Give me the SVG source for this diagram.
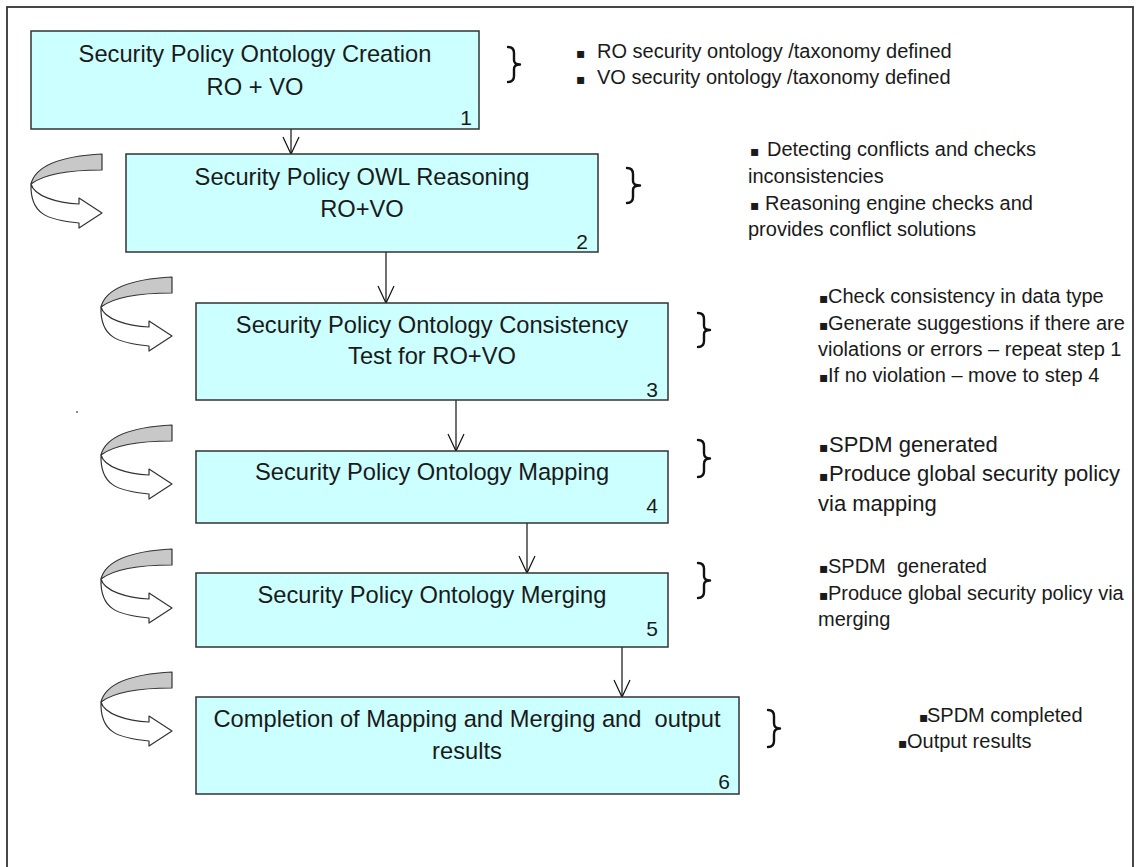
<svg xmlns="http://www.w3.org/2000/svg" xmlns:xlink="http://www.w3.org/1999/xlink" width="1139" height="867" viewBox="0 0 1139 867">
<style>
.box{fill:#ccffff;stroke:#333;stroke-width:1.5}
.bt{font-family:"Liberation Sans",Arial,sans-serif;font-size:23.7px;fill:#1a1a1a;text-anchor:middle;white-space:pre}
.num{font-family:"Liberation Sans",Arial,sans-serif;font-size:21px;fill:#1a1a1a;text-anchor:end}
.note{font-family:"Liberation Sans",Arial,sans-serif;font-size:20px;fill:#1a1a1a;white-space:pre}
.bul{font-family:"DejaVu Sans",sans-serif;font-size:14px}
.brace{fill:none;stroke:#111;stroke-width:2.4;stroke-linecap:round;stroke-linejoin:round}
.conn{stroke:#111;stroke-width:1.2;fill:none}
.gray{fill:#c8c8c8;stroke:#333;stroke-width:1.2;stroke-linejoin:round}
.wht{fill:#fff;stroke:#333;stroke-width:1.2;stroke-linejoin:round}
</style>
<defs>
<marker id="vh" markerUnits="userSpaceOnUse" markerWidth="40" markerHeight="40" refX="0" refY="0" orient="auto" overflow="visible">
<path d="M-17,-8 L0,0 L-17,8" fill="none" stroke="#111" stroke-width="1.2"/>
</marker>
<g id="uturn">
<path class="wht" d="M-71,30 C-68,42 -45,49 -23,50 L-23,44 L0,59 L-23,74 L-23,69 C-55,66 -72,60 -71,30 Z"/>
<path class="gray" d="M0,0 C-38,2 -66,10 -71,30 C-58,20 -35,16 0,16 Z"/>
</g>
</defs>
<rect width="1139" height="867" fill="#fff"/>
<rect id="frame" x="7" y="7" width="1126" height="880" fill="none" stroke="#333" stroke-width="1.8"/>
<circle cx="77" cy="412" r="0.9" fill="#555"/>

<g id="loops">
<use xlink:href="#uturn" transform="translate(102,154)"/>
<use xlink:href="#uturn" transform="translate(172,277)"/>
<use xlink:href="#uturn" transform="translate(172,425)"/>
<use xlink:href="#uturn" transform="translate(172,549)"/>
<use xlink:href="#uturn" transform="translate(172,672)"/>
</g>

<g id="connectors">
<line class="conn" x1="291" y1="129" x2="291" y2="154" marker-end="url(#vh)"/>
<line class="conn" x1="386" y1="252" x2="386" y2="303" marker-end="url(#vh)"/>
<line class="conn" x1="456" y1="400" x2="456" y2="451" marker-end="url(#vh)"/>
<line class="conn" x1="527" y1="523" x2="527" y2="573" marker-end="url(#vh)"/>
<line class="conn" x1="622" y1="647" x2="622" y2="697" marker-end="url(#vh)"/>
</g>

<g id="step1">
<rect class="box" x="31" y="31" width="448" height="98"/>
<text class="bt" x="255" y="62">Security Policy Ontology Creation</text>
<text class="bt" x="255" y="95">RO + VO</text>
<text class="num" x="472" y="125">1</text>
</g>
<g id="step2">
<rect class="box" x="126" y="154" width="472" height="98"/>
<text class="bt" x="362" y="185">Security Policy OWL Reasoning</text>
<text class="bt" x="362" y="217">RO+VO</text>
<text class="num" x="588" y="249">2</text>
</g>
<g id="step3">
<rect class="box" x="196" y="303" width="472" height="97"/>
<text class="bt" x="432" y="333">Security Policy Ontology Consistency</text>
<text class="bt" x="432" y="364">Test for RO+VO</text>
<text class="num" x="658" y="397">3</text>
</g>
<g id="step4">
<rect class="box" x="196" y="451" width="472" height="72"/>
<text class="bt" x="432" y="480">Security Policy Ontology Mapping</text>
<text class="num" x="658" y="513">4</text>
</g>
<g id="step5">
<rect class="box" x="196" y="573" width="472" height="74"/>
<text class="bt" x="432" y="603">Security Policy Ontology Merging</text>
<text class="num" x="658" y="636">5</text>
</g>
<g id="step6">
<rect class="box" x="196" y="697" width="543" height="97"/>
<text class="bt" x="467" y="727">Completion of Mapping and Merging and  output</text>
<text class="bt" x="467" y="759">results</text>
<text class="num" x="730" y="789">6</text>
</g>

<g id="notes1">
<path class="brace" d="M508,47 Q514,47 514,53 L514,60 Q514,64.5 520,64.5 Q514,64.5 514,69 L514,76 Q514,82 508,82"/>
<text class="note" y="58"><tspan class="bul" x="576">▪</tspan><tspan x="597">RO security ontology /taxonomy defined</tspan></text>
<text class="note" y="84"><tspan class="bul" x="576">▪</tspan><tspan x="597">VO security ontology /taxonomy defined</tspan></text>
</g>
<g id="notes2">
<path class="brace" d="M627,168 Q633,168 633,174 L633,181 Q633,185.5 640,185.5 Q633,185.5 633,190 L633,197 Q633,203 627,203"/>
<text class="note" y="156"><tspan class="bul" x="750">▪</tspan><tspan x="767">Detecting conflicts and checks</tspan></text>
<text class="note" x="748" y="183">inconsistencies</text>
<text class="note" y="210"><tspan class="bul" x="750">▪</tspan><tspan x="765">Reasoning engine checks and</tspan></text>
<text class="note" x="748" y="236">provides conflict solutions</text>
</g>
<g id="notes3">
<path class="brace" d="M698,313 Q704,313 704,319 L704,326 Q704,330 710,330 Q704,330 704,334 L704,341 Q704,347 698,347"/>
<text class="note" y="303"><tspan class="bul" x="819">▪</tspan><tspan x="828">Check consistency in data type</tspan></text>
<text class="note" y="330"><tspan class="bul" x="819">▪</tspan><tspan x="828">Generate suggestions if there are</tspan></text>
<text class="note" x="818" y="356">violations or errors – repeat step 1</text>
<text class="note" y="382"><tspan class="bul" x="819">▪</tspan><tspan x="828">If no violation – move to step 4</tspan></text>
</g>
<g id="notes4">
<path class="brace" d="M698,440 Q704,440 704,446 L704,453 Q704,458.5 710,458.5 Q704,458.5 704,464 L704,471 Q704,477 698,477"/>
<text class="note" style="font-size:22px" y="452"><tspan class="bul" x="819">▪</tspan><tspan x="829">SPDM generated</tspan></text>
<text class="note" style="font-size:22px" y="481"><tspan class="bul" x="819">▪</tspan><tspan x="829">Produce global security policy</tspan></text>
<text class="note" style="font-size:22px" x="818" y="511">via mapping</text>
</g>
<g id="notes5">
<path class="brace" d="M698,563 Q704,563 704,569 L704,576 Q704,580.5 710,580.5 Q704,580.5 704,585 L704,592 Q704,598 698,598"/>
<text class="note" y="573"><tspan class="bul" x="819">▪</tspan><tspan x="828">SPDM  generated</tspan></text>
<text class="note" y="600"><tspan class="bul" x="819">▪</tspan><tspan x="828">Produce global security policy via</tspan></text>
<text class="note" x="818" y="626">merging</text>
</g>
<g id="notes6">
<path class="brace" d="M768,710 Q774,710 774,716 L774,723 Q774,728.5 780,728.5 Q774,728.5 774,734 L774,741 Q774,747 768,747"/>
<text class="note" y="722"><tspan class="bul" x="919">▪</tspan><tspan x="927">SPDM completed</tspan></text>
<text class="note" y="748"><tspan class="bul" x="898">▪</tspan><tspan x="907">Output results</tspan></text>
</g>
</svg>
